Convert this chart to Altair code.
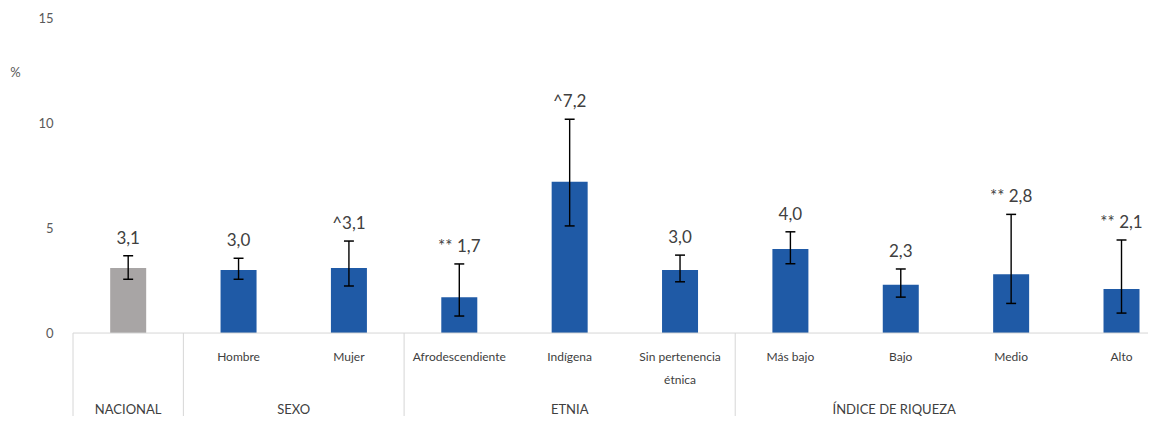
import altair as alt
import pandas as pd

# ---- data ----
groups = ["NACIONAL", "SEXO", "SEXO", "ETNIA", "ETNIA", "ETNIA",
          "ÍNDICE DE RIQUEZA", "ÍNDICE DE RIQUEZA", "ÍNDICE DE RIQUEZA", "ÍNDICE DE RIQUEZA"]
sub_labels = ["", "Hombre", "Mujer", "Afrodescendiente", "Indígena",
              "Sin pertenencia\nétnica", "Más bajo", "Bajo", "Medio", "Alto"]
values = [3.1, 3.0, 3.1, 1.7, 7.2, 3.0, 4.0, 2.3, 2.8, 2.1]
lower = [2.56, 2.56, 2.24, 0.81, 5.10, 2.44, 3.30, 1.71, 1.41, 0.95]
upper = [3.68, 3.56, 4.38, 3.29, 10.18, 3.71, 4.82, 3.05, 5.65, 4.43]
prefixes = ["", "", "^", "** ", "^", "", "", "", "** ", "** "]
group_names = ["NACIONAL", "SEXO", "ETNIA", "ÍNDICE DE RIQUEZA"]
group_sizes = [1, 2, 3, 4]
y_ticks = [0, 5, 10, 15]

# ---- layout constants ----
W, H = 1085, 398
X_MAX = 9.24
Y_MIN = -3.95
SUB_Y = -1.14
SUB_STEP = 1.1
GROUP_Y = -3.67
CAP = 0.045
GROUP_LABEL_SHIFT = [0, 0, 0, -0.56]  # last group label sits left of its span in the reference
FONT = "Lato"
BLUE = "#1F5AA6"
GREY = "#A8A5A5"
TEXT = "#404040"
LINE = "#D6D6D6"

df = pd.DataFrame({
    "idx": list(range(len(values))),
    "value": values,
    "lower": lower,
    "upper": upper,
    "label": [p + f"{v:.1f}".replace(".", ",") for p, v in zip(prefixes, values)],
    "color": [GREY if g == "NACIONAL" else BLUE for g in groups],
})

sub_rows = []
for i, s in enumerate(sub_labels):
    for k, line in enumerate(s.split("\n")):
        if line:
            sub_rows.append({"idx": i, "line": k, "text": line})
sdf = pd.DataFrame(sub_rows)

starts = []
acc = 0
for n in group_sizes:
    starts.append(acc)
    acc += n
bounds = pd.DataFrame({"b": [st - 0.5 for st in starts]})
gdf = pd.DataFrame({
    "name": group_names,
    "center": [st + (n - 1) / 2 + sh for st, n, sh in zip(starts, group_sizes, GROUP_LABEL_SHIFT)],
})

xs = alt.Scale(domain=[-0.5, X_MAX], nice=False, zero=False)
ys = alt.Scale(domain=[Y_MIN, 15], nice=False, zero=False)


def X(field):
    return alt.X(field, scale=xs, axis=None)


base = alt.Chart(df)

bars = base.transform_calculate(zero="0").mark_bar(size=36).encode(
    x=X("idx:Q"),
    y=alt.Y("value:Q", scale=ys,
            axis=alt.Axis(values=y_ticks, grid=False, domain=False, ticks=False,
                          labelPadding=15, labelFontSize=13, labelColor="#595959",
                          labelFont=FONT, title="%", titleAngle=0, titleX=-53, titleY=54,
                          titleFontSize=13, titleFont=FONT, titleColor="#595959",
                          titleFontWeight="normal", titleAlign="center",
                          titleBaseline="middle")),
    y2="zero:Q",
    color=alt.Color("color:N", scale=None),
)

err = base.mark_rule(color="black", strokeWidth=1.4).encode(
    x=X("idx:Q"), y=alt.Y("lower:Q", scale=ys), y2="upper:Q"
)
caps = base.transform_fold(["lower", "upper"], as_=["end", "yv"]).transform_calculate(
    xa=f"datum.idx - {CAP}", xb=f"datum.idx + {CAP}"
).mark_rule(color="black", strokeWidth=1.5).encode(
    x=X("xa:Q"), x2="xb:Q", y=alt.Y("yv:Q", scale=ys)
)

labels = base.mark_text(font=FONT, fontSize=17, color=TEXT, baseline="alphabetic", dy=-12).encode(
    x=X("idx:Q"), y=alt.Y("upper:Q", scale=ys), text="label:N"
)

hline = alt.Chart(pd.DataFrame({"z": [0]})).transform_calculate(
    xa="-0.5", xb=str(X_MAX)
).mark_rule(color=LINE, strokeWidth=1).encode(
    x=X("xa:Q"), x2="xb:Q", y=alt.Y("z:Q", scale=ys)
)

seps = alt.Chart(bounds).transform_calculate(
    y0="0", y1=str(Y_MIN)
).mark_rule(color=LINE, strokeWidth=1).encode(
    x=X("b:Q"), y=alt.Y("y0:Q", scale=ys), y2="y1:Q"
)

subs = alt.Chart(sdf).transform_calculate(
    ypos=f"{SUB_Y} - datum.line * {SUB_STEP}"
).mark_text(font=FONT, fontSize=12, color=TEXT, baseline="middle").encode(
    x=X("idx:Q"), y=alt.Y("ypos:Q", scale=ys), text="text:N"
)

glabels = alt.Chart(gdf).transform_calculate(ypos=str(GROUP_Y)).mark_text(
    font=FONT, fontSize=13, color=TEXT, baseline="middle"
).encode(
    x=X("center:Q"), y=alt.Y("ypos:Q", scale=ys), text="name:N"
)

chart = alt.layer(bars, hline, seps, err, caps, labels, subs, glabels).properties(
    width=W, height=H,
    autosize=alt.AutoSizeParams(type="none"),
    padding={"left": 60, "top": 10, "right": 0, "bottom": 0},
).configure_view(stroke=None)

chart.save("out.html", embed_options={"renderer": "svg", "actions": False})
